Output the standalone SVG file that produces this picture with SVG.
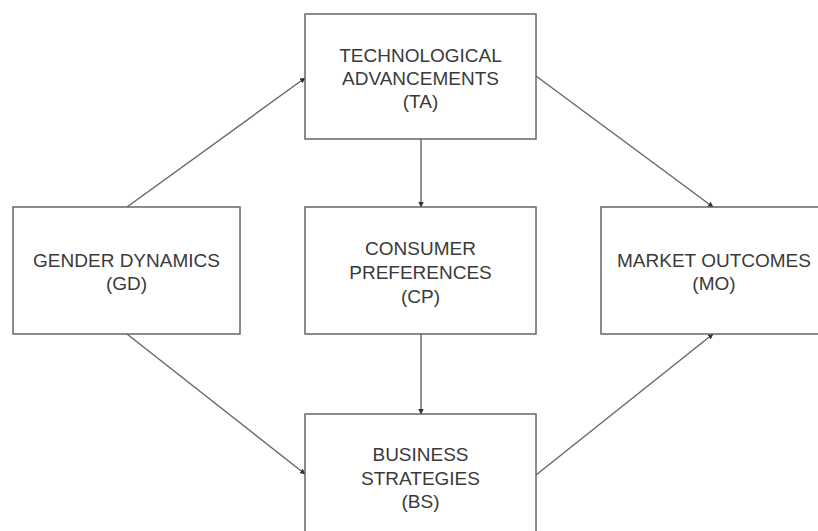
<svg xmlns="http://www.w3.org/2000/svg" width="818" height="531" viewBox="0 0 818 531">
<style>
.box{fill:#fff;stroke:#666;stroke-width:1.5}
.t{font-family:"Liberation Sans",Arial,sans-serif;font-size:19px;fill:#3a3a3a;text-anchor:middle}
.c{stroke:#666;stroke-width:1.4;fill:none;marker-end:url(#ah)}
</style>
<defs>
<marker id="ah" viewBox="0 0 10 10" refX="9" refY="5" markerWidth="4" markerHeight="4" orient="auto" markerUnits="strokeWidth">
<path d="M0,0 L10,5 L0,10 z" fill="#333"/>
</marker>
</defs>
<rect width="818" height="531" fill="#fff"/>
<g id="connectors">
<line class="c" x1="127" y1="207" x2="305" y2="78"/>
<line class="c" x1="536" y1="76" x2="713" y2="207"/>
<line class="c" x1="127" y1="334" x2="305" y2="474"/>
<line class="c" x1="536" y1="475" x2="713" y2="334"/>
<line class="c" x1="421" y1="139" x2="421" y2="207"/>
<line class="c" x1="421" y1="334" x2="421" y2="414"/>
</g>
<g id="TA">
<rect class="box" x="305" y="14" width="231" height="125"/>
<text class="t" x="420.5" y="62">TECHNOLOGICAL</text>
<text class="t" x="420.5" y="85">ADVANCEMENTS</text>
<text class="t" x="420.5" y="108">(TA)</text>
</g>
<g id="GD">
<rect class="box" x="13" y="207" width="227" height="127"/>
<text class="t" x="126.5" y="267">GENDER DYNAMICS</text>
<text class="t" x="126.5" y="290">(GD)</text>
</g>
<g id="CP">
<rect class="box" x="305" y="207" width="231" height="127"/>
<text class="t" x="420.5" y="255">CONSUMER</text>
<text class="t" x="420.5" y="279">PREFERENCES</text>
<text class="t" x="420.5" y="303">(CP)</text>
</g>
<g id="MO">
<rect class="box" x="601" y="207" width="227" height="127"/>
<text class="t" x="714" y="267">MARKET OUTCOMES</text>
<text class="t" x="714" y="290">(MO)</text>
</g>
<g id="BS">
<rect class="box" x="305" y="414" width="231" height="130"/>
<text class="t" x="420.5" y="461">BUSINESS</text>
<text class="t" x="420.5" y="485">STRATEGIES</text>
<text class="t" x="420.5" y="508">(BS)</text>
</g>
</svg>
